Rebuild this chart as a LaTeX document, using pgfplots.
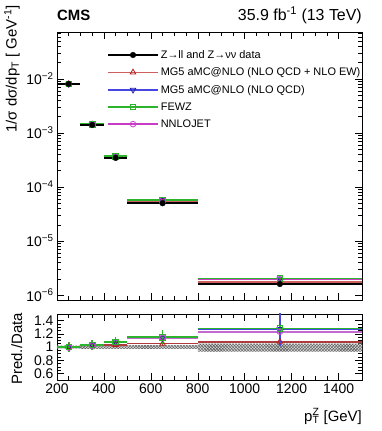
\documentclass[border=0pt]{standalone}
\usepackage{fontspec}
\setmainfont{Liberation Sans}
\usepackage{pgfplots}
\pgfplotsset{compat=1.18}
\usetikzlibrary{patterns}

\definecolor{mgewl}{RGB}{205,95,95}
\definecolor{mgewr}{RGB}{175,60,60}
\definecolor{mgewd}{RGB}{180,30,30}
\definecolor{mgqcd}{RGB}{70,70,225}
\definecolor{mgqcdd}{RGB}{30,30,170}
\definecolor{fewz}{RGB}{45,180,45}
\definecolor{nnlo}{RGB}{200,60,200}
\definecolor{nnlol}{RGB}{195,105,210}

\newcommand{\tickfont}{\fontsize{14}{16}\selectfont}

\pgfplotsset{
  cmsaxis/.style={
    scale only axis, width=305bp,
    xmin=200, xmax=1500,
    tick align=inside,
    major tick length=7bp, minor tick length=4bp,
    xtick={200,400,...,1400}, minor x tick num=3,
    tick label style={font=\tickfont},
    /pgf/number format/assume math mode=true,
    /pgf/number format/set thousands separator={},
    axis line style={line width=0.8pt},
    every tick/.style={black, line width=0.5pt},
  },
  binpt/.style={only marks, forget plot,
    error bars/x dir=both, error bars/x explicit,
    error bars/y dir=both, error bars/y explicit,
    error bars/error mark=none,
    error bars/error bar style={draw=#1, line width=1.6pt}},
}

\begin{document}
\begin{tikzpicture}
\path[use as bounding box] (0bp,0bp) rectangle (382bp,431bp);

% main panel
\begin{axis}[cmsaxis, at={(57bp,131bp)}, anchor=south west, height=268bp,
  ymode=log, ymin=8.1e-7, ymax=7.4e-2,
  xticklabels={},
  ytick={1e-6,1e-5,1e-4,1e-3,1e-2},
  yticklabels={10\textsuperscript{−6},10\textsuperscript{−5},10\textsuperscript{−4},10\textsuperscript{−3},10\textsuperscript{−2}},
  minor ytick={2e-6,3e-6,4e-6,5e-6,6e-6,7e-6,8e-6,9e-6,
               2e-5,3e-5,4e-5,5e-5,6e-5,7e-5,8e-5,9e-5,
               2e-4,3e-4,4e-4,5e-4,6e-4,7e-4,8e-4,9e-4,
               2e-3,3e-3,4e-3,5e-3,6e-3,7e-3,8e-3,9e-3,
               2e-2,3e-2,4e-2,5e-2,6e-2,7e-2},
  legend style={at={(0.164,0.94)}, anchor=north west, draw=none, fill=none,
    font=\fontsize{11}{13}\selectfont, row sep=4bp, inner sep=0pt},
  legend cell align=left,
]
% legend entries
\addlegendimage{legend image code/.code={
  \draw[black, line width=1.3pt] (0bp,0bp) -- (50bp,0bp);
  \draw[black, mark=*, mark size=2.8bp] plot[only marks] coordinates {(25bp,0bp)};}}
\addlegendentry{Z→ll and Z→νν data}
\addlegendimage{legend image code/.code={
  \draw[mgewl, line width=1.6pt] (0bp,0bp) -- (50bp,0bp);
  \draw[mgewd, line width=0.8pt, mark=triangle, mark size=3.2bp] plot[only marks] coordinates {(25bp,0bp)};}}
\addlegendentry{MG5 aMC@NLO (NLO QCD + NLO EW)}
\addlegendimage{legend image code/.code={
  \draw[mgqcd, line width=1.6pt] (0bp,0bp) -- (50bp,0bp);
  \draw[mgqcdd, line width=0.8pt, mark=triangle, mark size=3.2bp, mark options={rotate=180}] plot[only marks] coordinates {(25bp,0bp)};}}
\addlegendentry{MG5 aMC@NLO (NLO QCD)}
\addlegendimage{legend image code/.code={
  \draw[fewz, line width=1.6pt] (0bp,0bp) -- (50bp,0bp);
  \draw[fewz, line width=0.8pt, mark=square, mark size=2.8bp] plot[only marks] coordinates {(25bp,0bp)};}}
\addlegendentry{FEWZ}
\addlegendimage{legend image code/.code={
  \draw[nnlo, line width=1.6pt] (0bp,0bp) -- (50bp,0bp);
  \draw[nnlo, line width=0.8pt, mark=o, mark size=2.8bp] plot[only marks] coordinates {(25bp,0bp)};}}
\addlegendentry{NNLOJET}
% predictions and data
\addplot[binpt=mgewl, mark=triangle, mark size=3.2bp, mark options={mgewd, line width=0.8pt}]
  coordinates {(250,8.1e-3)+-(50,0) (350,1.44e-3)+-(50,0) (450,3.55e-4)+-(50,0) (650,5.25e-5)+-(150,0) (1150,1.73e-6)+-(350,0)};
\addplot[binpt=mgqcd, mark=triangle, mark size=3.2bp, mark options={mgqcdd, rotate=180, line width=0.8pt}]
  coordinates {(250,8.1e-3)+-(50,0) (350,1.45e-3)+-(50,0) (450,3.69e-4)+-(50,0) (650,5.7e-5)+-(150,0) (1150,2.0e-6)+-(350,0)};
\addplot[binpt=nnlo, mark=o, mark size=2.8bp, mark options={nnlo, line width=0.8pt}]
  coordinates {(250,8.0e-3)+-(50,0) (350,1.44e-3)+-(50,0) (450,3.69e-4)+-(50,0) (650,5.7e-5)+-(150,0) (1150,1.97e-6)+-(350,0)};
\addplot[binpt=fewz, mark=square, mark size=2.8bp, mark options={fewz, line width=0.8pt}]
  coordinates {(250,8.1e-3)+-(50,0) (350,1.45e-3)+-(50,0) (450,3.73e-4)+-(50,0) (650,5.75e-5)+-(150,0) (1150,2.03e-6)+-(350,0)};
\addplot[binpt=black, mark=*, mark size=2.8bp, mark options={black}]
  coordinates {(250,8.1e-3)+-(50,0) (350,1.41e-3)+-(50,0) (450,3.45e-4)+-(50,0) (650,5.0e-5)+-(150,0) (1150,1.6e-6)+-(350,0)};
\end{axis}

% ratio panel
\begin{axis}[cmsaxis, at={(57bp,51bp)}, anchor=south west, height=66bp,
  ymin=0.5, ymax=1.5, ytick={0.6,0.8,1,1.2,1.4}, minor y tick num=3,
]
% data uncertainty band
\addplot[fill=gray!30, draw=none, postaction={pattern=crosshatch, pattern color=gray!70!black}, forget plot]
  coordinates {(200,0.98) (300,0.98) (300,0.97) (500,0.97) (500,0.97) (800,0.97) (800,0.93) (1500,0.93)
               (1500,1.05) (800,1.05) (800,1.03) (400,1.03) (400,1.02) (200,1.02)} -- cycle;
\addplot[binpt=mgewr, mark=triangle, mark size=3.2bp, mark options={mgewd, line width=0.8pt}]
  coordinates {(250,1.00)+-(50,0.01) (350,1.02)+-(50,0.01) (450,1.03)+-(50,0.02) (650,1.05)+-(150,0.03) (1150,1.08)+-(350,0.06)};
\addplot[binpt=mgqcd, mark=triangle, mark size=3.2bp, mark options={mgqcdd, rotate=180, line width=0.8pt}]
  coordinates {(250,1.00)+-(50,0.01) (350,1.03)+-(50,0.01) (450,1.07)+-(50,0.02) (650,1.14)+-(150,0.03) (1150,1.27)+-(350,0.25)};
\addplot[binpt=nnlol, mark=o, mark size=2.8bp, mark options={nnlo, line width=0.8pt}]
  coordinates {(250,0.99)+-(50,0.02) (350,1.02)+-(50,0.02) (450,1.07)+-(50,0.02) (650,1.14)+-(150,0.02) (1150,1.23)+-(350,0.02)};
\addplot[binpt=fewz, mark=square, mark size=2.8bp, mark options={fewz, line width=0.8pt}]
  coordinates {(250,1.00)+-(50,0.07) (350,1.03)+-(50,0.07) (450,1.08)+-(50,0.07) (650,1.15)+-(150,0.10) (1150,1.28)+-(350,0.06)};
\end{axis}

% titles and labels
\node[anchor=base west, inner sep=0pt, font=\fontsize{15}{17}\selectfont\bfseries] at (57bp,410bp) {CMS};
\node[anchor=base east, inner sep=0pt, font=\fontsize{16}{18}\selectfont] at (362bp,410bp) {35.9 fb\textsuperscript{-1} (13 TeV)};
\node[rotate=90, anchor=north east, inner sep=0pt, font=\fontsize{15}{17}\selectfont] at (4bp,426bp)
  {1/σ dσ/dp\textsubscript{T} [ GeV\textsuperscript{-1}]};
\node[rotate=90, anchor=north east, inner sep=0pt, font=\fontsize{15}{17}\selectfont] at (11bp,118bp) {Pred./Data};
\node[anchor=base east, inner sep=0pt, font=\fontsize{15}{17}\selectfont] at (362bp,10bp)
  {p\rlap{\textsuperscript{Z}}\textsubscript{T} [GeV]};
\end{tikzpicture}
\end{document}
